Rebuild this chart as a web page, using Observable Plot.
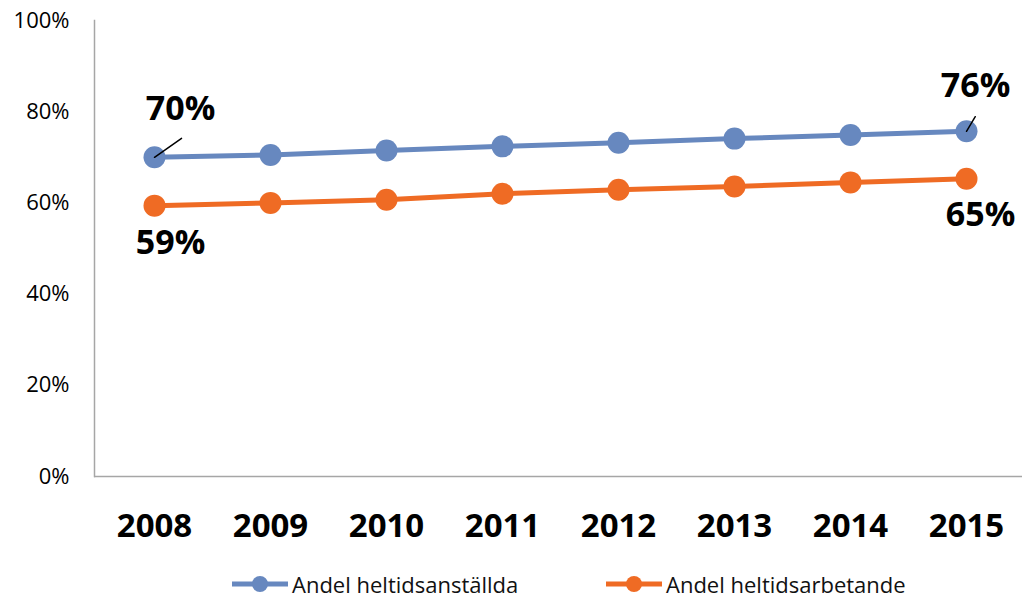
<!DOCTYPE html>
<html>
<head>
<meta charset="utf-8">
<script src="https://cdn.jsdelivr.net/npm/d3@7"></script>
<script src="https://cdn.jsdelivr.net/npm/@observablehq/plot@0.6"></script>
<style>
  html, body { margin: 0; padding: 0; background: #fff; }
  #chart svg { display: block; }
  #legend { position: relative; height: 45px; font-family: "Open Sans", sans-serif; font-size: 22px; color: #111; }
  .item { position: absolute; top: 10px; display: flex; align-items: center; height: 28px; }
  .item svg { display: block; margin-right: 4px; }
</style>
</head>
<body>
<div id="chart"></div>
<div id="legend"></div>
<script>
const years = ["2008", "2009", "2010", "2011", "2012", "2013", "2014", "2015"];
const seriesNames = ["Andel heltidsanställda", "Andel heltidsarbetande"];
const anstallda = [70.0, 70.5, 71.5, 72.4, 73.2, 74.1, 74.9, 75.7];
const arbetande = [59.4, 60.0, 60.7, 62.0, 62.9, 63.6, 64.5, 65.3];
const colors = ["#6788BF", "#EF6B24"];
const yTicks = [0, 20, 40, 60, 80, 100];
const endLabels = [
  {series: seriesNames[0], year: "2008", value: anstallda[0], text: "70%"},
  {series: seriesNames[0], year: "2015", value: anstallda[7], text: "76%"},
  {series: seriesNames[1], year: "2008", value: arbetande[0], text: "59%"},
  {series: seriesNames[1], year: "2015", value: arbetande[7], text: "65%"}
];
// label offsets (style only)
const labelOffsets = [[26, -48], [9, -45], [16, 37], [14, 36]];
// leader line styles for the two upper labels: [length px, rotation deg]
const leaderStyles = [[33, 55], [17, 31]];

const rows = [];
years.forEach((yr, i) => {
  rows.push({series: seriesNames[0], year: yr, value: anstallda[i]});
  rows.push({series: seriesNames[1], year: yr, value: arbetande[i]});
});

const lineShape = {draw(context, l) { context.moveTo(0, 0); context.lineTo(0, -l); }};

const chart = Plot.plot({
  width: 1022,
  height: 560,
  marginLeft: 94,
  marginRight: -3,
  marginTop: 20,
  marginBottom: 84,
  style: {fontFamily: "'Open Sans', sans-serif", color: "#000", background: "#fff"},
  x: {type: "point", domain: years, padding: 0.5, label: null},
  y: {domain: [0, 100], label: null},
  color: {domain: seriesNames, range: colors},
  marks: [
    Plot.frame({anchor: "left", stroke: "#A6A6A6", strokeWidth: 1.5}),
    Plot.ruleY([0], {stroke: "#A6A6A6", strokeWidth: 1.5}),
    Plot.axisY({ticks: yTicks, tickFormat: d => d + "%", tickSize: 0, tickPadding: 25, fontSize: 22, label: null}),
    Plot.axisX({tickSize: 0, tickPadding: 37, fontSize: 33, fontWeight: "bold", label: null}),
    Plot.line(rows, {x: "year", y: "value", z: "series", stroke: "series", strokeWidth: 5}),
    Plot.dot(rows, {x: "year", y: "value", fill: "series", r: 11}),
    ...endLabels.slice(0, 2).map((d, i) => Plot.vector([d], {
      x: "year", y: "value",
      length: leaderStyles[i][0], rotate: leaderStyles[i][1],
      anchor: "start", shape: lineShape, stroke: "#000", strokeWidth: 1.5
    })),
    ...endLabels.map((d, i) => Plot.text([d], {
      x: "year", y: "value", text: "text",
      dx: labelOffsets[i][0], dy: labelOffsets[i][1],
      fontSize: 34, fontWeight: "bold", fill: "#000", lineAnchor: "middle"
    }))
  ]
});
document.getElementById("chart").append(chart);

// Legend below the SVG
const legend = document.getElementById("legend");
const lefts = [232, 606];
seriesNames.forEach((name, i) => {
  const item = document.createElement("div");
  item.className = "item";
  item.style.left = lefts[i] + "px";
  const sw = d3.create("svg").attr("width", 56).attr("height", 20);
  sw.append("line").attr("x1", 0).attr("x2", 56).attr("y1", 10).attr("y2", 10)
    .attr("stroke", colors[i]).attr("stroke-width", 5).attr("stroke-linecap", "round");
  sw.append("circle").attr("cx", 28).attr("cy", 10).attr("r", 8).attr("fill", colors[i]);
  item.append(sw.node());
  const span = document.createElement("span");
  span.textContent = name;
  item.append(span);
  legend.append(item);
});
</script>
</body>
</html>
